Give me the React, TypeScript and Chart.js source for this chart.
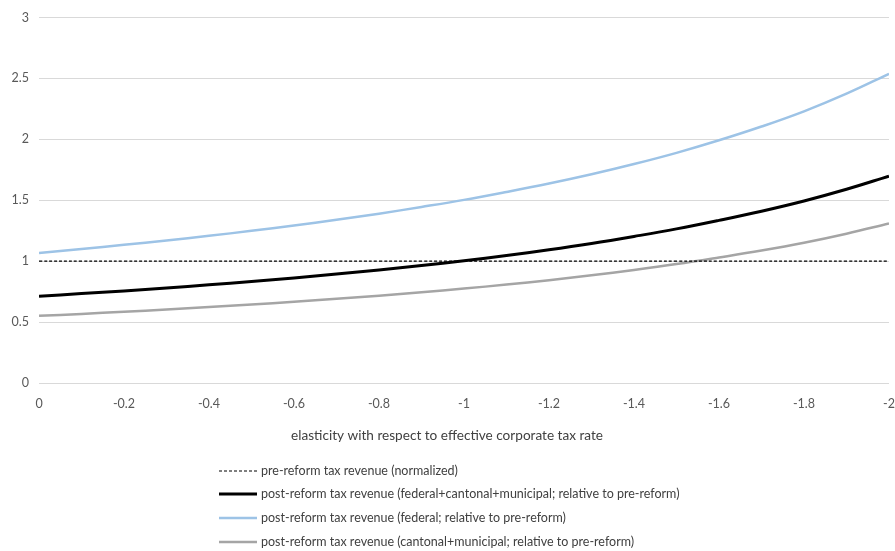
import { useEffect, useRef } from "react"
import { Chart, registerables } from "chart.js"

Chart.register(...registerables)

// elasticity values along the x axis (0 down to -2)
const elasticity = [0, -0.1, -0.2, -0.3, -0.4, -0.5, -0.6, -0.7, -0.8, -0.9, -1, -1.1, -1.2, -1.3, -1.4, -1.5, -1.6, -1.7, -1.8, -1.9, -2]

const preReform = [1, 1, 1, 1, 1, 1, 1, 1, 1, 1, 1, 1, 1, 1, 1, 1, 1, 1, 1, 1, 1]
const postTotal = [0.712, 0.734, 0.756, 0.78, 0.806, 0.833, 0.862, 0.894, 0.928, 0.964, 1.003, 1.046, 1.093, 1.145, 1.203, 1.265, 1.335, 1.41, 1.494, 1.59, 1.698]
const postFederal = [1.068, 1.1, 1.134, 1.17, 1.208, 1.249, 1.293, 1.34, 1.39, 1.445, 1.503, 1.568, 1.637, 1.713, 1.797, 1.889, 1.992, 2.105, 2.23, 2.375, 2.538]
const postCantonal = [0.551, 0.567, 0.585, 0.603, 0.623, 0.644, 0.667, 0.691, 0.717, 0.745, 0.775, 0.808, 0.844, 0.884, 0.928, 0.976, 1.03, 1.087, 1.151, 1.225, 1.309]

const xTickValues = [0, -0.2, -0.4, -0.6, -0.8, -1, -1.2, -1.4, -1.6, -1.8, -2]
const xTickLabels = ["0", "-0.2", "-0.4", "-0.6", "-0.8", "-1", "-1.2", "-1.4", "-1.6", "-1.8", "-2"]
const yTickValues = [0, 0.5, 1, 1.5, 2, 2.5, 3]
const yTickLabels = ["0", "0.5", "1", "1.5", "2", "2.5", "3"]

const seriesLabels = [
  "pre-reform tax revenue (normalized)",
  "post-reform tax revenue (federal+cantonal+municipal; relative to pre-reform)",
  "post-reform tax revenue (federal; relative to pre-reform)",
  "post-reform tax revenue (cantonal+municipal; relative to pre-reform)",
]
const xTitle = "elasticity with respect to effective corporate tax rate"

const FONT = "Lato"

const toPoints = (ys: number[]) => ys.map((y, i) => ({ x: elasticity[i], y }))

// draws the axis title and the stacked legend under the plot
const bottomLegend = {
  id: "bottomLegend",
  afterDraw(chart: Chart) {
    const ctx = chart.ctx
    ctx.save()
    ctx.fillStyle = "#404040"
    ctx.font = `13.6px ${FONT}`
    ctx.textAlign = "center"
    ctx.textBaseline = "middle"
    ctx.fillText(xTitle, 447, 436)

    ctx.textAlign = "left"
    ctx.font = `12.5px ${FONT}`
    const rows = [471, 494, 518, 542]
    chart.data.datasets.forEach((ds: any, i) => {
      const y = rows[i]
      ctx.beginPath()
      ctx.strokeStyle = ds.borderColor
      ctx.lineWidth = ds.borderWidth
      ctx.setLineDash(ds.borderDash || [])
      ctx.moveTo(219, y)
      ctx.lineTo(257, y)
      ctx.stroke()
      ctx.setLineDash([])
      ctx.fillStyle = "#404040"
      ctx.fillText(ds.label, 261, y)
    })
    ctx.restore()
  },
}

export default function App() {
  const chartRef = useRef<HTMLCanvasElement>(null)
  const chartInstance = useRef<Chart | null>(null)

  useEffect(() => {
    document.body.style.margin = "0"
    if (!chartRef.current) return
    const ctx = chartRef.current.getContext("2d")
    if (!ctx) return

    chartInstance.current = new Chart(ctx, {
      type: "line",
      data: {
        datasets: [
          {
            label: seriesLabels[0],
            data: toPoints(preReform),
            borderColor: "#000000",
            borderWidth: 1.2,
            borderDash: [3, 2],
          },
          {
            label: seriesLabels[1],
            data: toPoints(postTotal),
            borderColor: "#000000",
            borderWidth: 3,
          },
          {
            label: seriesLabels[2],
            data: toPoints(postFederal),
            borderColor: "#9DC3E6",
            borderWidth: 2.5,
          },
          {
            label: seriesLabels[3],
            data: toPoints(postCantonal),
            borderColor: "#A5A5A5",
            borderWidth: 2.5,
          },
        ],
      },
      options: {
        animation: false,
        responsive: true,
        maintainAspectRatio: false,
        elements: {
          point: { radius: 0 },
          line: { tension: 0.4, fill: false },
        },
        layout: { padding: { top: 7, right: 6, left: 0, bottom: 0 } },
        plugins: {
          legend: { display: false },
          tooltip: { enabled: false },
        },
        scales: {
          x: {
            type: "linear",
            reverse: true,
            min: -2,
            max: 0,
            afterFit: (s: any) => {
              s.height = 168
              s.paddingLeft = 0
              s.paddingRight = 0
            },
            afterBuildTicks: (s: any) => {
              s.ticks = xTickValues.map((value) => ({ value }))
            },
            grid: { display: false, drawTicks: false },
            border: { display: false },
            ticks: {
              padding: 13,
              color: "#595959",
              font: { family: FONT, size: 12.5 },
              maxRotation: 0,
              callback: (_v: any, i: number) => xTickLabels[i],
            },
          },
          y: {
            min: 0,
            max: 3,
            afterFit: (s: any) => {
              s.width = 39
            },
            afterBuildTicks: (s: any) => {
              s.ticks = yTickValues.map((value) => ({ value }))
            },
            grid: { color: "#D9D9D9", lineWidth: 1, drawTicks: false },
            border: { display: false },
            ticks: {
              padding: 10,
              color: "#595959",
              font: { family: FONT, size: 12.5 },
              callback: (_v: any, i: number) => yTickLabels[i],
            },
          },
        },
      },
      plugins: [bottomLegend],
    })

    return () => {
      chartInstance.current?.destroy()
    }
  }, [])

  return (
    <div style={{ position: "relative", width: 895, height: 551 }}>
      <canvas ref={chartRef} />
    </div>
  )
}
